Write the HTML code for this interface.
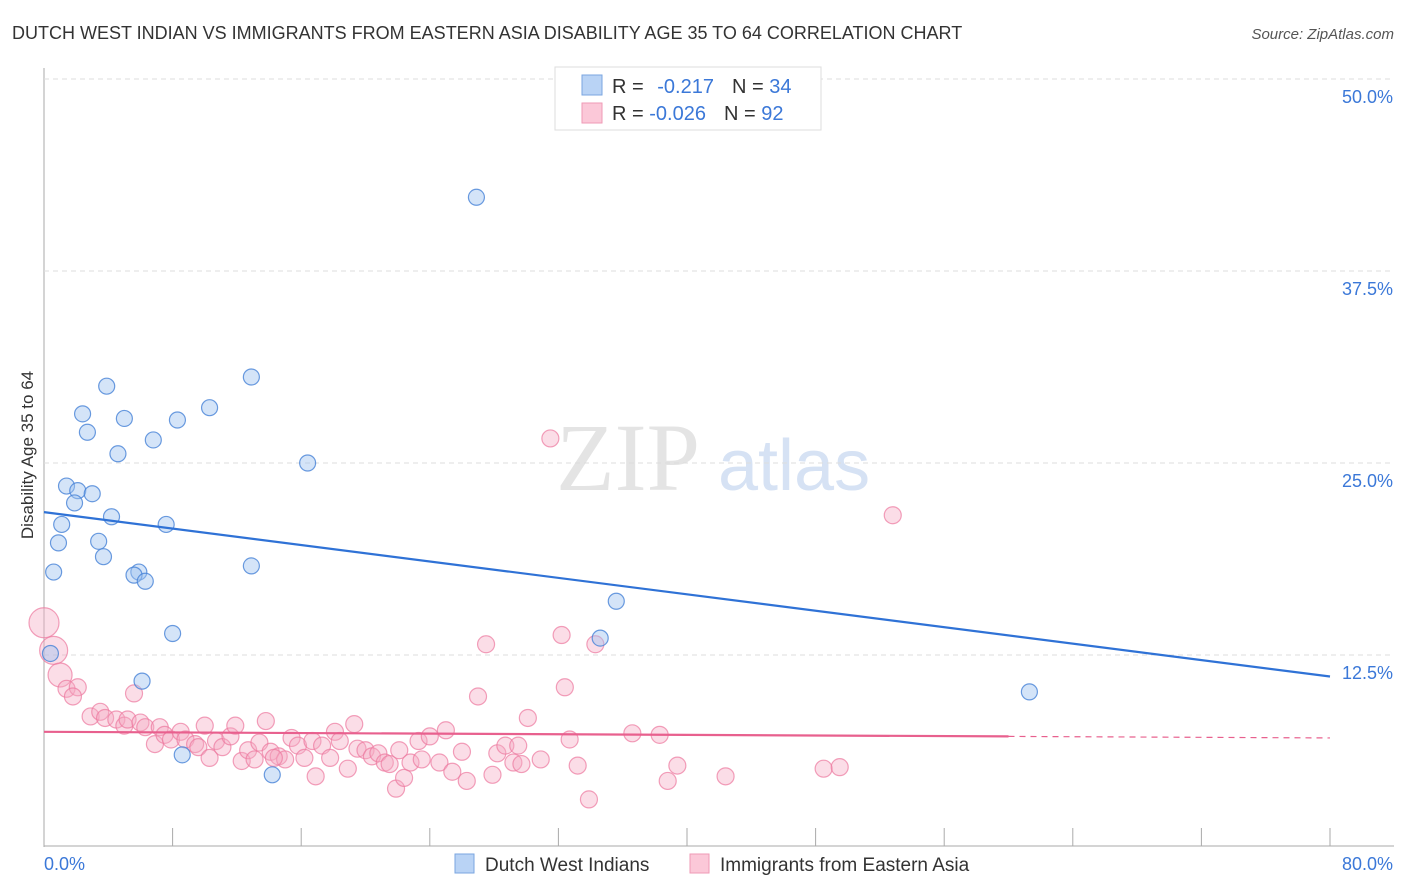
<!DOCTYPE html>
<html><head><meta charset="utf-8"><style>
body{margin:0;background:#fff;font-family:"Liberation Sans",sans-serif;}
svg{display:block}
</style></head><body>
<svg id="c" width="1406" height="892" xmlns="http://www.w3.org/2000/svg">
<text x="12" y="39" font-size="18" fill="#333">DUTCH WEST INDIAN VS IMMIGRANTS FROM EASTERN ASIA DISABILITY AGE 35 TO 64 CORRELATION CHART</text>
<text x="1394" y="39" font-size="15" fill="#555" font-style="italic" text-anchor="end">Source: ZipAtlas.com</text>
<text x="556" y="490" font-size="96" fill="#e4e4e4" font-family="Liberation Serif,serif">ZIP</text>
<text x="718" y="490" font-size="72" fill="#d6e2f4">atlas</text>
<text transform="translate(33,455) rotate(-90)" font-size="17" fill="#333" text-anchor="middle">Disability Age 35 to 64</text>
<g id="grid"></g><g id="pts"></g><g id="trend"></g>
<g>
<rect x="555" y="67" width="266" height="63" fill="#fff" stroke="#ddd"/>
<rect x="582" y="75" width="20" height="20" fill="#b9d3f5" stroke="#7aa6e0"/>
<rect x="582" y="103" width="20" height="20" fill="#fbc8d8" stroke="#ef9ab6"/>
<text x="612" y="93" font-size="20" fill="#333">R = <tspan fill="#3b78d8" dx="8">-0.217</tspan><tspan dx="18" fill="#333">N = </tspan><tspan fill="#3b78d8">34</tspan></text>
<text x="612" y="120" font-size="20" fill="#333">R = <tspan fill="#3b78d8">-0.026</tspan><tspan dx="18" fill="#333">N = </tspan><tspan fill="#3b78d8">92</tspan></text>
</g>
<g>
<rect x="455" y="854" width="19" height="19" fill="#b9d3f5" stroke="#7aa6e0"/>
<text x="485" y="871" font-size="19" fill="#333">Dutch West Indians</text>
<rect x="690" y="854" width="19" height="19" fill="#fbc8d8" stroke="#ef9ab6"/>
<text x="720" y="871" font-size="19" fill="#333">Immigrants from Eastern Asia</text>
</g>
</svg>
<script>
const xTicks=[0,8,16,24,32,40,48,56,64,72,80];
const yTicks=[12.5,25,37.5,50];
const yTickLabels=["12.5%","25.0%","37.5%","50.0%"];
const blueX=[26.9,12.9,3.9,10.3,2.4,5.0,8.3,2.7,6.8,4.6,16.4,1.4,2.1,3.0,1.9,4.2,1.1,7.6,0.9,3.4,3.7,12.9,0.6,5.9,5.6,6.3,35.6,8.0,34.6,0.4,6.1,61.3,8.6,14.2];
const blueY=[42.3,30.6,30.0,28.6,28.2,27.9,27.8,27.0,26.5,25.6,25.0,23.5,23.2,23.0,22.4,21.5,21.0,21.0,19.8,19.9,18.9,18.3,17.9,17.9,17.7,17.3,16.0,13.9,13.6,12.6,10.8,10.1,6.0,4.7];
const pinkX=[0.0,0.6,1.0,1.4,2.1,1.8,5.6,2.9,3.5,3.8,4.5,5.0,5.2,6.0,6.3,6.9,7.2,7.5,7.9,8.5,8.8,9.4,9.6,10.0,10.3,10.7,11.1,11.6,11.9,12.3,12.7,13.1,13.4,13.8,14.1,14.6,15.0,15.4,15.8,16.2,16.7,16.9,17.3,17.8,18.1,18.4,18.9,19.3,19.5,20.0,20.4,20.8,21.2,21.5,21.9,22.1,22.4,22.8,23.3,23.5,24.0,24.6,25.0,25.4,26.0,26.3,27.0,27.5,27.9,28.2,28.7,29.2,29.5,29.7,30.1,30.9,31.5,32.2,32.4,32.7,33.2,33.9,34.3,36.6,38.3,38.8,39.4,42.4,48.5,49.5,52.8,14.3];
const pinkY=[14.6,12.8,11.2,10.3,10.4,9.8,10.0,8.5,8.8,8.4,8.3,7.9,8.3,8.1,7.8,6.7,7.8,7.3,7.0,7.5,7.0,6.7,6.5,7.9,5.8,6.9,6.5,7.2,7.9,5.6,6.3,5.7,6.8,8.2,6.2,5.9,5.7,7.1,6.6,5.8,6.9,4.6,6.6,5.8,7.5,6.9,5.1,8.0,6.4,6.3,5.9,6.1,5.5,5.4,3.8,6.3,4.5,5.5,6.9,5.7,7.2,5.5,7.6,4.9,6.2,4.3,9.8,13.2,4.7,6.1,6.6,5.5,6.6,5.4,8.4,5.7,26.6,13.8,10.4,7.0,5.3,3.1,13.2,7.4,7.3,4.3,5.3,4.6,5.1,5.2,21.6,5.8];
const pinkR=[15,14,12];
const blueTrend=[21.8,11.1], pinkTrendSolid=[7.5,7.1], pinkTrendEnd=[60,80];
const NS="http://www.w3.org/2000/svg";
const X=v=>44+v/80*1286, Y=v=>847-v/12.5*192;
function mk(t,a,p){const e=document.createElementNS(NS,t);for(const k in a)e.setAttribute(k,a[k]);p.appendChild(e);return e;}
const g=document.getElementById('grid');
mk('line',{x1:44,y1:68,x2:44,y2:847,stroke:'#aaa'},g);
const xa=mk('line',{x1:44,y1:846,x2:1394,y2:846,stroke:'#aaa'},g);

xTicks.forEach(t=>{const l=mk('line',{x1:X(t),y1:828,x2:X(t),y2:846,stroke:'#aaa'},g);

});
yTicks.forEach((t,i)=>{const l=mk('line',{x1:44,y1:Y(t),x2:1394,y2:Y(t),stroke:'#ddd','stroke-dasharray':'5,4'},g);


const tx=mk('text',{x:1393,y:Y(t)+24,'font-size':18,fill:'#3b78d8','text-anchor':'end'},g);tx.textContent=yTickLabels[i];

});
const x0=mk('text',{x:44,y:870,'font-size':18,fill:'#3b78d8'},g);x0.textContent='0.0%';

const x1=mk('text',{x:1393,y:870,'font-size':18,fill:'#3b78d8','text-anchor':'end'},g);x1.textContent='80.0%';

const p=document.getElementById('pts');
pinkX.forEach((v,i)=>{const c=mk('circle',{cx:X(v),cy:Y(pinkY[i]),r:pinkR[i]||8.5,fill:'rgba(246,170,195,0.4)',stroke:'rgba(236,120,158,0.7)','stroke-width':1.2},p);

});
blueX.forEach((v,i)=>{const c=mk('circle',{cx:X(v),cy:Y(blueY[i]),r:8,fill:'rgba(160,196,240,0.45)',stroke:'rgba(70,130,215,0.8)','stroke-width':1.2},p);

});
const tr=document.getElementById('trend');
const b=mk('line',{x1:X(0),y1:Y(blueTrend[0]),x2:X(80),y2:Y(blueTrend[1]),stroke:'#2f72d6','stroke-width':2.2},tr);


const slope=(pinkTrendSolid[1]-pinkTrendSolid[0])/pinkTrendEnd[1];
const pk=mk('line',{x1:X(0),y1:Y(pinkTrendSolid[0]),x2:X(pinkTrendEnd[0]),y2:Y(pinkTrendSolid[0]+slope*pinkTrendEnd[0]),stroke:'#e8608e','stroke-width':2.2},tr);


const pd=mk('line',{x1:X(pinkTrendEnd[0]),y1:Y(pinkTrendSolid[0]+slope*pinkTrendEnd[0]),x2:X(80),y2:Y(pinkTrendSolid[1]),stroke:'#e8608e','stroke-width':1.2,'stroke-dasharray':'6,5'},tr);


</script>
</body></html>
